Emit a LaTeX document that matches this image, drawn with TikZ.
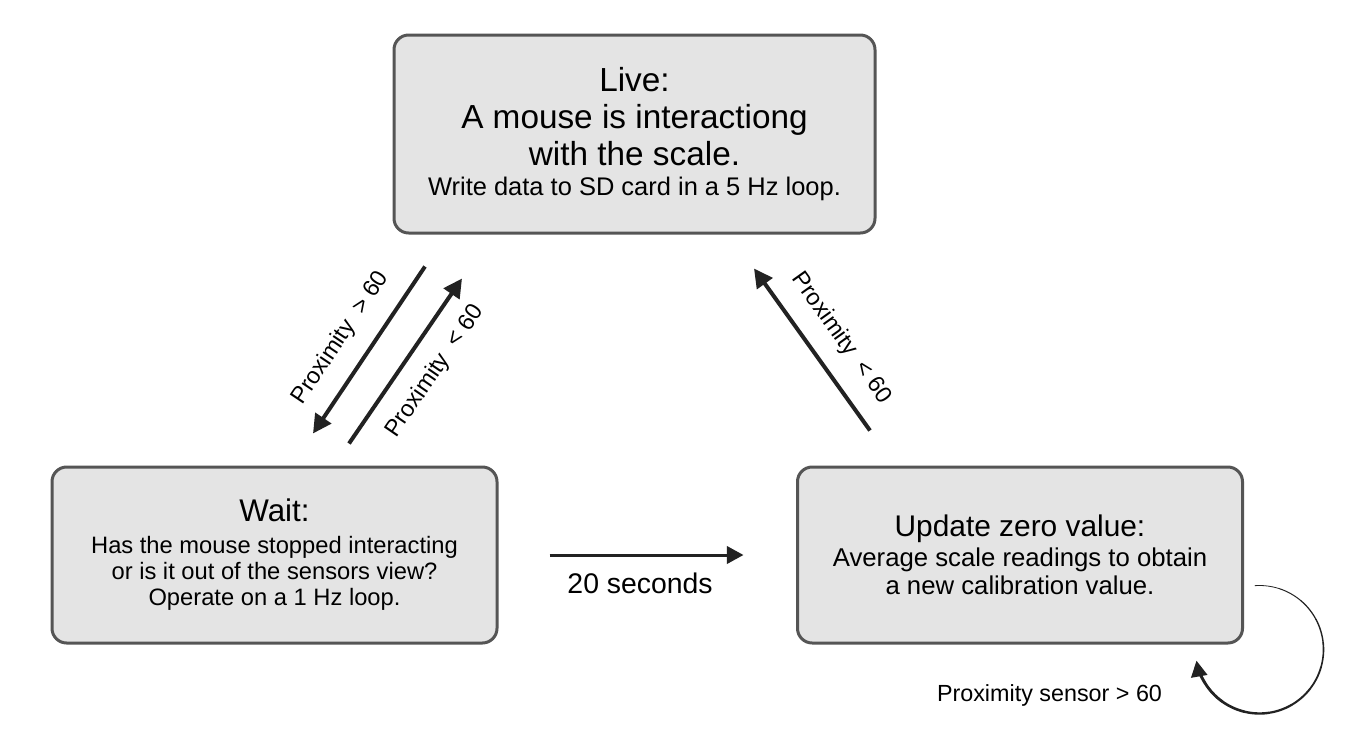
\documentclass[tikz,border=0pt]{standalone}
\usepackage{fontspec}
\setmainfont{Liberation Sans}
\usetikzlibrary{arrows.meta,calc}
\definecolor{boxfill}{HTML}{E4E4E4}
\definecolor{boxline}{HTML}{555555}
\definecolor{arrowink}{HTML}{222222}
\newcommand{\bigfont}{\fontsize{25}{27.75}\selectfont}
\newcommand{\titlefont}{\fontsize{23}{25}\selectfont}
\newcommand{\labelfont}{\fontsize{17.5}{20}\selectfont}

\begin{document}
\begin{tikzpicture}[x=0.75pt,y=-0.75pt]
            \useasboundingbox[fill=white] (0,0) rectangle (1354,740);
            \begin{scope}[every node/.style={draw=boxline,fill=boxfill,line width=2.25pt,rounded corners=11pt,align=center,text=black}]
                \node[minimum width=360.75pt,minimum height=148.5pt,font=\bigfont] (live) at (634.5,134) {Live:\\A mouse is interactiong\\with the scale.\\[-5.25pt]{\fontsize{19.1}{22}\selectfont Write data to SD card in a 5 Hz loop.}};
                \node[minimum width=333.75pt,minimum height=132pt,font=\fontsize{17.8}{19.5}\selectfont] (wait) at (274.5,555) {{\fontsize{23.5}{25}\selectfont Wait:}\\[4.5pt]Has the mouse stopped interacting\\or is it out of the sensors view?\\Operate on a 1 Hz loop.};
                \node[minimum width=333.75pt,minimum height=132pt,font=\fontsize{19.3}{21}\selectfont] (update) at (1020,555) {{\fontsize{22.4}{25}\selectfont Update zero value:}\\[1.5pt]Average scale readings to obtain\\a new calibration value.};
            \end{scope}

            \coordinate (exitA) at ($(live.south)+(-209.5,32)$);
            \coordinate (exitB) at ($(wait.north)+(38.5,-32)$);
            \coordinate (enterA) at ($(wait.north)+(74.5,-22)$);
            \coordinate (enterB) at ($(live.south)+(-172.5,44)$);
            \coordinate (zeroA) at ($(update.north)+(-150,-35)$);
            \coordinate (zeroB) at ($(live.south)+(119.5,34)$);
            \coordinate (timerA) at ($(wait.east)+(51,0)$);
            \coordinate (timerB) at ($(update.west)+(-52.5,0)$);
            \coordinate (loopc) at ($(update.south east)+(15.5,5)$);

            \begin{scope}[>={Triangle[length=14pt,width=14pt]},
                          every node/.style={font=\labelfont,sloped,inner sep=0pt,text=black},
                          every edge/.style={draw=arrowink,line width=3pt}]
                \path [->] (exitA) edge node[above=13pt,pos=0.53] {Proximity\ \ > 60} (exitB);
                \path [->] (enterA) edge node[below=13pt,pos=0.54] {Proximity\ \ < 60} (enterB);
                \path [->] (zeroA) edge node[above=13pt,pos=0.46] {Proximity\ \ < 60} (zeroB);
                \path [->,>={Triangle[length=12.5pt,width=13pt]}] (timerA) edge[line width=2.25pt] node[below=12pt,pos=0.467,font=\fontsize{21.3}{24}\selectfont] {20 seconds} (timerB);
            \end{scope}

            \foreach \a [count=\i, evaluate=\i as \w using 0.45+0.15*\i] in {-94,-72,...,126}
                \draw[arrowink,line width=\w pt,line cap=round] ([shift={(\a:64)}]loopc) arc[start angle=\a,end angle=\a+22,radius=64];
            \draw[arrowink,line width=2.2pt,-{Triangle[length=12pt,width=12pt]}] ([shift={(148:64)}]loopc) arc[start angle=148,end angle=170,radius=64];
            \node[font=\labelfont,anchor=base,inner sep=0pt] (loopnote) at ($(update.south)+(29.5,57)$) {Proximity sensor > 60};
\end{tikzpicture}
\end{document}
